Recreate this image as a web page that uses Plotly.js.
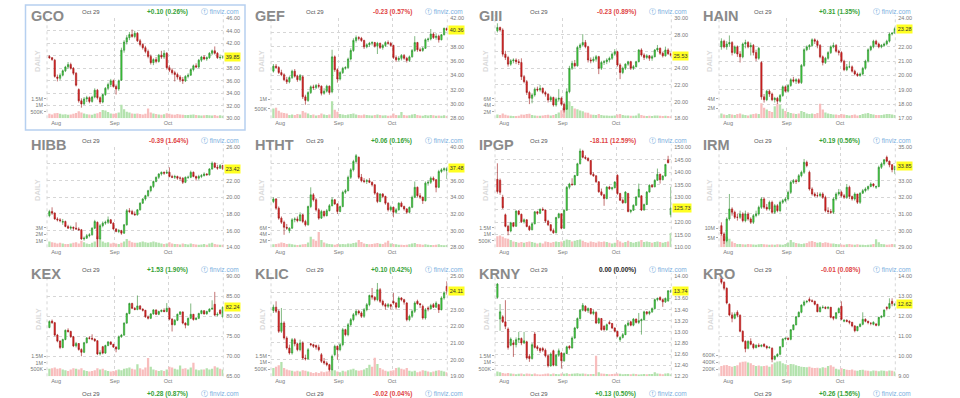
<!DOCTYPE html>
<html><head><meta charset="utf-8">
<script src="https://cdn.plot.ly/plotly-3.0.1.min.js"></script>
<style>html,body{margin:0;padding:0;background:#fff;overflow:hidden}#chart{width:960px;height:398px}</style>
</head><body><div id="chart"></div>
<script>
// ---------- data ----------
const monthStarts = [3, 25, 45];
const monthLabels = ['Aug', 'Sep', 'Oct'];
const dateLabel = 'Oct 29';
const tickers = ['GCO','GEF','GIII','HAIN','HIBB','HTHT','IPGP','IRM','KEX','KLIC','KRNY','KRO'];
const changeVals = [0.10,-0.23,-0.23,0.31,-0.39,0.06,-18.11,0.19,1.53,0.10,0.00,-0.01];
const changePcts = [0.26,0.57,0.89,1.35,1.64,0.16,12.59,0.56,1.90,0.42,0.00,0.08];
const row4ChangeVals = [0.28,-0.02,0.13,0.26];
const row4ChangePcts = [0.87,0.04,0.50,1.56];

const priceTicks = [
 [30,32,34,36,38,40,42,44,46],
 [28,30,32,34,36,38,40,42],
 [18,20,22,24,26,28,30],
 [17,18,19,20,21,22,23,24],
 [14,16,18,20,22,24,26],
 [28,30,32,34,36,38,40],
 [110,115,120,125,130,135,140,145,150],
 [29,30,31,32,33,34,35],
 [65,70,75,80,85,90],
 [19,20,21,22,23,24,25],
 [12.2,12.4,12.6,12.8,13.0,13.2,13.4,13.6,13.8,14.0],
 [9,10,11,12,13,14]
];
// volume ticks in thousands
const volTicks = [
 [500,1000,1500],[500,1000],[2000,4000,6000],[2000,4000],
 [1000,2000,3000],[2000,4000,6000],[500,1000,1500],[5000,10000],
 [500,1000,1500],[500,1000,1500],[500,1000,1500],[200,400,600]
];

// [open, high, low, close]
const GCO_OHLC = [[39.9,40.1,39.5,39.7],[39.7,39.8,39.2,39.4],[39.3,39.5,36.5,36.7],[36.6,37.0,35.9,36.4],[36.4,37.2,36.1,36.9],[36.9,37.8,36.7,37.6],[37.6,38.4,37.4,38.2],[38.2,39.0,37.9,38.6],[38.6,38.9,37.8,38.0],[38.0,38.2,36.9,37.2],
[37.2,37.4,35.1,35.3],[34.6,34.8,32.5,32.8],[32.8,33.2,31.7,32.3],[32.3,33.4,32.1,33.1],[33.1,33.6,32.6,33.3],[33.3,33.5,32.4,32.7],[32.7,33.6,32.5,33.4],[33.4,34.8,33.2,34.5],[34.5,34.7,33.0,33.3],[33.3,33.5,32.3,32.6],
[32.6,33.9,32.4,33.8],[33.8,35.0,33.6,34.8],[34.8,35.7,34.5,35.4],[35.4,36.3,35.0,36.0],[36.0,36.2,34.9,35.1],[35.1,35.4,33.8,34.7],[34.7,36.2,34.4,36.0],[36.1,41.3,36.0,40.9],[40.9,42.5,40.5,42.2],[42.2,43.3,41.8,42.9],
[42.9,43.8,42.5,43.4],[43.4,44.2,42.9,43.1],[43.1,44.0,42.8,43.6],[43.6,43.8,42.2,42.4],[42.4,42.7,41.5,41.8],[41.8,42.0,41.0,41.3],[41.3,41.6,40.4,40.7],[40.7,41.0,39.6,39.9],[39.9,40.2,38.6,38.9],[38.9,39.6,38.5,39.4],
[39.4,39.8,38.8,39.1],[39.1,40.3,38.9,40.1],[40.1,40.8,39.5,39.8],[39.8,40.9,39.5,40.4],[40.4,40.6,37.8,38.1],[38.1,38.5,37.4,37.7],[37.7,38.0,37.0,37.3],[37.3,37.6,35.9,37.0],[37.0,37.3,36.2,36.6],[36.6,36.9,35.8,36.2],
[36.2,36.6,35.5,36.0],[36.0,36.9,35.8,36.7],[36.7,37.2,36.4,36.9],[36.9,38.0,36.8,37.8],[37.8,38.6,37.5,38.4],[38.4,38.8,38.0,38.2],[38.2,39.5,38.0,39.3],[39.3,40.0,39.0,39.8],[39.8,40.1,39.3,39.5],[39.5,39.9,39.2,39.7],
[39.7,40.6,39.5,40.4],[40.4,41.0,40.1,40.8],[40.8,41.5,40.2,40.4],[40.4,40.6,39.5,39.7],[39.7,40.2,39.4,39.75],[39.75,40.0,39.5,39.85]];
const GCO_VOL = [350,300,400,420,350,300,320,280,300,350,420,550,450,380,320,300,280,350,400,480,650,600,480,380,350,400,450,1050,700,500,450,380,350,380,330,300,350,750,450,380,330,300,280,320,400,350,300,280,330,300,280,260,250,270,300,250,230,220,240,260,230,220,250,200,230,200];

const GEF_OHLC = [[34.6,35.6,34.4,35.3],[35.3,35.6,34.9,35.1],[35.1,35.3,34.2,34.4],[34.4,34.8,33.9,34.1],[34.1,34.3,33.2,33.4],[33.4,33.8,32.8,33.1],[33.1,33.9,32.9,33.7],[33.7,34.8,33.5,34.6],[34.6,34.9,33.7,33.9],[33.9,34.1,33.1,33.4],
[33.4,34.2,33.2,34.0],[33.8,34.0,30.7,31.0],[31.0,31.3,29.9,30.5],[30.5,31.8,30.3,31.6],[31.6,32.6,31.4,32.4],[32.4,32.7,32.0,32.3],[32.3,32.8,32.1,32.6],[32.6,32.9,32.2,32.5],[32.5,32.6,31.2,31.5],[31.5,32.2,31.3,31.8],
[31.8,32.7,31.6,32.5],[32.5,32.6,31.3,31.6],[31.7,37.6,31.5,36.6],[36.6,36.8,34.5,34.8],[34.8,35.0,33.0,33.5],[33.5,34.6,33.3,34.4],[34.4,35.2,34.2,35.0],[35.0,35.3,34.8,35.1],[35.1,36.5,34.9,36.3],[36.3,37.8,36.1,37.5],
[37.5,39.2,37.3,38.9],[38.9,39.6,38.6,39.3],[39.3,39.5,38.9,39.2],[39.2,39.4,38.7,38.9],[38.9,39.0,37.7,38.0],[38.0,38.5,37.8,38.3],[38.3,38.7,38.0,38.5],[38.5,38.8,38.2,38.6],[38.6,38.7,37.9,38.1],[38.1,38.7,37.0,38.5],
[38.5,38.6,37.7,37.9],[37.9,38.4,37.6,38.2],[38.2,38.8,38.0,38.6],[38.6,38.9,38.3,38.5],[38.5,38.7,38.0,38.2],[38.2,38.3,36.3,36.5],[36.5,36.8,35.9,36.2],[36.2,36.7,36.0,36.4],[36.4,37.0,36.1,36.8],[36.8,37.0,36.2,36.4],
[36.4,36.6,35.8,36.1],[36.1,36.8,35.9,36.6],[36.6,37.7,36.5,37.5],[37.5,39.5,37.3,38.6],[38.6,38.7,37.3,37.6],[37.6,37.9,37.3,37.5],[37.5,38.0,37.3,37.8],[37.8,39.2,37.7,39.0],[39.0,39.3,38.7,39.1],[39.1,40.5,38.9,39.8],
[39.8,40.0,39.1,39.3],[39.3,39.9,39.0,39.5],[39.5,39.7,38.6,39.0],[39.0,39.8,38.9,39.7],[39.7,40.7,39.6,40.59],[40.59,40.7,40.2,40.36]];
const GEF_VOL = [520,560,400,300,280,250,180,200,180,220,200,380,300,250,180,200,150,180,250,200,170,200,900,450,350,220,200,180,200,230,250,200,180,160,200,170,160,150,180,200,170,150,160,140,150,250,180,160,330,170,150,160,200,230,180,150,140,170,150,180,160,140,150,130,160,120];

const GIII_OHLC = [[28.5,29.4,28.3,28.9],[28.9,29.0,28.4,28.6],[28.6,28.8,25.4,25.7],[25.7,26.1,25.0,25.3],[25.3,25.5,24.2,24.5],[24.5,25.1,24.3,24.9],[24.9,25.2,24.6,25.0],[25.0,25.2,24.5,24.8],[24.8,25.1,24.4,24.7],[24.7,25.2,22.6,23.0],
[23.0,23.2,22.2,22.4],[22.4,22.6,20.8,21.1],[21.1,21.3,19.7,20.4],[20.4,21.0,19.8,20.8],[20.8,21.7,20.6,21.5],[21.5,21.8,21.2,21.4],[21.4,22.0,21.2,21.6],[21.6,21.7,20.9,21.1],[21.1,21.3,20.6,20.9],[20.9,21.0,19.9,20.2],
[20.2,20.7,20.0,20.5],[20.5,20.6,19.4,19.6],[19.6,20.5,19.4,20.3],[20.3,21.5,20.0,20.4],[20.4,20.6,19.5,19.7],[19.7,19.9,18.7,19.0],[19.1,21.6,19.0,21.2],[21.2,24.3,21.0,24.0],[24.0,24.9,23.8,24.6],[24.6,25.0,24.1,24.3],
[24.3,26.7,24.2,26.5],[26.5,27.0,26.2,26.8],[26.8,28.1,26.6,27.1],[27.1,27.4,26.4,26.6],[26.6,26.7,24.7,25.0],[25.0,25.3,24.6,24.9],[24.9,25.4,24.7,25.1],[25.1,25.6,24.8,25.4],[25.4,25.5,23.3,24.0],[24.0,24.9,23.8,24.7],
[24.7,25.0,24.4,24.8],[24.8,25.2,24.5,25.0],[25.0,25.4,24.7,25.2],[25.2,25.9,25.0,25.7],[25.7,26.3,25.5,26.0],[26.0,26.1,24.2,24.4],[24.4,24.6,22.7,23.5],[23.5,24.2,23.3,24.0],[24.0,24.6,23.8,24.5],[24.5,24.9,24.3,24.8],
[24.8,24.9,23.8,24.0],[24.0,24.4,23.8,24.2],[24.2,24.9,24.1,24.8],[24.8,26.3,24.7,26.2],[26.2,26.4,25.4,25.6],[25.6,25.8,25.0,25.3],[25.3,25.7,25.1,25.5],[25.5,25.6,24.9,25.2],[25.2,25.6,24.9,25.4],[25.4,26.3,25.3,26.2],
[26.2,26.8,26.0,26.4],[26.4,26.5,25.6,25.8],[25.8,26.0,25.3,25.5],[25.5,26.6,25.4,26.2],[26.2,26.4,25.6,25.76],[25.76,25.9,25.4,25.53]];
const GIII_VOL = [1200,1000,1500,1100,900,800,700,700,800,1200,1100,1300,1400,1000,900,800,800,900,1000,1100,900,1000,1300,1800,2500,3500,4200,5200,3800,3000,2800,2400,2200,1800,1700,1200,1100,1000,1300,1000,900,850,800,800,900,1200,1300,1000,900,850,800,800,900,1500,1000,800,750,800,700,900,850,800,700,800,700,600];

const HAIN_OHLC = [[22.0,22.6,21.8,22.4],[22.4,22.5,21.9,22.0],[22.0,22.4,21.8,22.2],[22.2,22.8,22.0,22.3],[22.3,22.4,21.4,21.6],[21.6,22.1,21.5,22.0],[22.0,22.1,21.3,21.5],[21.5,21.7,20.9,21.3],[21.3,22.3,21.2,22.2],[22.2,22.5,21.9,22.3],
[22.3,22.4,21.9,22.0],[22.0,22.3,21.4,22.1],[22.1,22.2,21.4,21.6],[21.6,21.8,21.0,21.2],[21.2,22.0,21.1,21.9],[20.9,21.0,18.3,18.5],[18.5,18.7,18.1,18.3],[18.3,19.0,18.2,18.9],[18.9,19.0,18.5,18.7],[18.7,18.8,18.2,18.3],
[18.3,18.5,18.1,18.4],[18.4,18.5,18.0,18.2],[18.2,18.7,18.1,18.6],[18.6,19.3,18.5,19.2],[19.2,19.3,18.8,18.9],[18.9,19.4,18.8,19.3],[19.3,19.8,19.2,19.7],[19.7,19.9,19.5,19.6],[19.6,19.8,19.4,19.7],[19.7,19.8,19.4,19.5],
[19.5,20.8,19.4,20.7],[20.7,21.9,20.6,21.8],[21.8,22.1,21.7,22.0],[22.0,22.2,21.8,22.1],[22.1,22.6,22.0,22.5],[22.5,22.6,22.2,22.4],[22.4,22.5,21.9,22.1],[22.1,22.2,21.2,21.3],[21.3,21.4,20.7,20.9],[20.9,21.3,20.8,21.2],
[21.2,21.7,21.1,21.6],[21.6,22.1,21.5,22.0],[22.0,22.3,21.9,22.1],[22.1,22.2,21.6,21.7],[21.7,21.8,21.4,21.6],[21.6,21.7,20.9,21.0],[21.0,21.1,20.3,20.4],[20.4,20.8,20.3,20.6],[20.6,21.0,20.5,20.6],[20.6,20.7,20.2,20.3],
[20.3,20.4,20.0,20.1],[20.1,20.2,19.9,20.0],[20.0,20.2,19.9,20.1],[20.1,20.6,20.0,20.5],[20.5,21.1,20.4,21.0],[21.0,21.9,20.9,21.8],[21.8,22.1,21.7,22.0],[22.0,22.5,21.9,22.4],[22.4,22.5,22.1,22.2],[22.2,22.3,21.9,22.0],
[22.0,22.2,21.9,22.1],[22.1,22.3,22.0,22.2],[22.2,22.5,22.1,22.4],[22.4,23.0,22.3,22.9],[22.9,23.0,22.8,22.97],[22.97,23.4,22.9,23.28]];
const HAIN_VOL = [1000,800,700,900,800,700,900,1000,800,700,600,800,900,1000,900,3100,2200,1800,1500,1300,2500,3000,2800,2000,1500,1300,1100,1000,900,1000,1500,1300,1000,900,1000,900,1100,3000,1800,1200,1000,900,800,800,700,900,800,700,600,700,800,600,700,900,1000,1100,900,800,700,700,700,800,900,900,800,700];

const HIBB_OHLC = [[17.8,18.5,17.6,18.3],[18.3,18.8,17.9,18.1],[18.1,18.2,17.3,17.4],[17.4,17.6,17.1,17.3],[17.3,17.5,17.0,17.2],[17.0,17.4,16.7,17.1],[17.1,17.2,16.4,16.5],[16.5,16.7,16.2,16.3],[16.3,16.6,16.1,16.4],[16.4,16.5,16.0,16.3],
[16.3,17.0,16.1,16.2],[16.2,16.4,16.0,16.1],[16.1,16.2,14.9,15.0],[15.0,15.3,14.8,15.1],[15.1,15.6,15.0,15.4],[15.4,15.7,15.2,15.5],[15.5,16.4,15.4,16.3],[16.3,17.3,16.2,17.1],[17.0,17.1,14.0,15.0],[15.0,16.8,14.9,16.6],
[16.6,17.1,16.4,16.9],[16.9,17.2,16.7,17.0],[17.0,17.7,16.8,17.3],[17.3,17.4,16.8,16.9],[16.9,17.0,16.1,16.2],[16.2,16.3,15.8,15.9],[15.9,16.2,15.7,16.0],[16.0,16.1,15.5,15.7],[15.7,16.8,15.6,16.7],[16.7,18.6,16.6,18.4],
[18.4,18.7,18.1,18.3],[18.3,18.5,17.9,18.0],[18.0,18.3,17.8,17.9],[17.9,18.6,17.8,18.5],[18.5,19.4,18.4,19.3],[19.3,19.9,19.2,19.8],[19.8,20.3,19.6,20.2],[20.2,20.9,20.0,20.8],[20.8,21.4,20.6,21.3],[21.3,22.0,21.1,21.9],
[21.9,22.5,21.8,22.4],[22.4,22.9,22.2,22.8],[22.8,23.1,22.6,23.0],[23.0,23.1,22.7,22.9],[22.9,23.3,22.8,23.0],[23.0,23.6,22.4,22.5],[22.5,22.7,22.3,22.4],[22.4,22.7,22.2,22.5],[22.5,22.6,22.1,22.3],[22.3,22.5,22.0,22.3],
[22.3,22.4,21.6,21.8],[21.8,22.5,21.7,22.4],[22.4,22.6,22.2,22.4],[22.4,23.2,22.3,23.0],[23.0,23.1,22.4,22.5],[22.5,22.6,22.0,22.3],[22.3,22.7,22.1,22.5],[22.5,22.8,22.3,22.6],[22.6,23.0,22.5,22.8],[22.8,22.9,22.6,22.7],
[22.7,23.5,22.6,23.4],[23.4,24.3,23.3,24.1],[24.1,24.2,23.5,23.6],[23.6,23.9,23.3,23.5],[23.5,24.0,23.4,23.81],[23.81,23.9,23.3,23.42]];
const HIBB_VOL = [900,800,700,600,700,600,500,500,600,700,800,600,1000,800,600,500,700,900,1800,1200,900,700,800,600,700,600,500,700,900,1300,1000,800,700,700,800,900,800,700,800,900,800,700,600,500,600,800,600,500,500,450,600,500,450,600,500,450,400,450,500,400,600,700,500,450,400,400];

const HTHT_OHLC = [[33.5,34.0,33.3,33.8],[33.8,33.9,32.5,32.7],[32.7,32.9,31.3,31.5],[31.5,31.7,30.8,31.0],[31.0,31.2,29.5,30.4],[30.4,30.8,30.1,30.3],[30.0,30.4,29.7,30.3],[30.3,31.5,30.2,31.3],[31.3,31.6,31.0,31.4],[31.4,31.7,31.0,31.2],
[31.2,32.2,31.1,31.9],[31.9,32.0,30.9,31.1],[31.1,31.3,30.5,30.7],[30.7,33.0,30.6,32.9],[32.9,35.2,32.7,34.3],[34.3,34.5,33.5,33.7],[33.7,33.9,32.3,32.5],[32.5,32.7,31.3,31.5],[31.5,32.5,31.4,32.3],[32.3,32.4,31.6,31.8],
[31.8,32.6,31.7,32.4],[32.4,33.2,32.3,33.0],[33.0,34.0,32.9,33.7],[33.7,33.8,33.1,33.2],[33.2,33.3,32.0,32.3],[32.3,33.0,32.2,32.9],[32.9,34.8,32.8,34.6],[34.6,35.0,34.4,34.8],[34.8,36.6,34.7,36.4],[36.4,37.5,36.2,37.3],
[37.3,38.5,37.1,38.3],[38.3,39.2,38.1,39.0],[38.8,38.9,36.2,36.4],[36.4,36.8,35.8,36.0],[36.0,36.3,35.7,35.9],[35.9,36.2,35.6,36.0],[36.0,36.3,35.7,35.8],[35.8,35.9,35.3,35.5],[35.5,35.6,34.3,34.5],[34.5,34.6,33.3,33.5],
[33.5,34.5,33.4,34.4],[34.4,34.5,33.9,34.1],[34.1,34.2,33.1,33.3],[33.3,33.4,32.3,32.5],[32.5,33.0,32.3,32.8],[32.8,32.9,31.6,32.2],[32.2,32.7,32.0,32.5],[32.5,33.4,32.4,33.3],[33.3,33.5,32.8,32.9],[32.9,33.0,32.4,32.6],
[32.6,32.7,32.0,32.2],[32.2,32.9,32.1,32.8],[32.8,34.2,32.7,34.0],[34.0,35.9,33.9,35.2],[35.2,35.3,34.0,34.2],[34.2,34.5,33.8,34.0],[34.0,34.1,33.2,33.6],[33.6,35.9,33.5,35.7],[35.7,36.0,35.4,35.8],[35.8,36.5,35.6,36.3],
[36.3,36.5,35.9,36.1],[36.1,36.2,34.6,35.2],[35.2,37.3,35.1,37.1],[37.1,37.5,36.9,37.3],[37.3,37.6,37.1,37.42],[37.2,37.6,36.2,37.48]];
const HTHT_VOL = [900,1000,1200,1500,1300,1000,1100,900,800,700,800,900,1000,1500,3200,2500,2000,4700,2200,1500,1200,1000,900,800,1000,900,1000,900,1200,1100,1300,1500,2200,1600,1200,1000,900,1000,1200,1300,1100,1000,1500,2000,1200,1000,900,800,800,700,800,900,1200,1300,1000,900,800,900,800,700,700,800,900,700,600,700];

const IPGP_OHLC = [[137.2,143.6,131.5,132.3],[136.8,137.5,131.0,132.0],[130.0,131.0,125.3,125.8],[123.0,123.5,118.0,118.4],[118.4,119.0,114.8,116.5],[116.5,120.2,116.0,119.8],[119.8,120.0,118.0,118.4],[118.4,124.8,118.2,124.5],[124.5,124.9,122.8,123.2],[123.2,123.5,119.8,120.2],
[120.2,121.5,119.5,121.0],[121.0,121.2,118.0,118.3],[118.3,118.8,116.5,117.0],[117.0,119.8,116.8,119.4],[119.4,124.5,119.2,124.2],[124.2,124.6,123.0,123.6],[123.6,125.5,123.3,125.2],[125.2,126.0,124.6,124.9],[124.9,125.0,119.8,120.5],[120.5,121.0,118.5,119.0],
[119.0,119.3,116.3,116.7],[116.7,117.5,115.4,115.8],[115.8,122.2,115.6,121.9],[121.9,123.8,121.5,123.4],[123.4,123.6,117.2,117.6],[117.6,125.2,117.4,124.8],[124.8,134.5,124.6,134.0],[134.0,135.8,133.2,135.3],[135.3,137.6,134.8,135.0],[135.0,139.0,134.8,138.7],
[138.7,143.8,138.5,143.4],[143.4,149.5,143.2,148.5],[148.5,149.0,145.6,146.0],[146.0,146.8,145.2,145.6],[145.6,146.0,144.3,144.7],[144.7,144.9,138.8,139.2],[139.2,140.0,138.2,138.6],[138.6,138.8,135.8,136.2],[136.2,136.5,131.8,132.2],[132.2,133.5,130.5,131.0],
[131.0,131.4,126.6,129.5],[129.5,134.4,129.2,134.1],[134.1,134.6,133.0,133.4],[133.4,134.2,132.8,133.8],[133.8,136.5,133.6,136.1],[138.8,139.2,131.0,131.5],[131.5,131.8,128.5,128.8],[128.8,129.5,127.4,127.8],[127.8,132.5,127.6,132.1],[131.5,131.8,124.0,124.3],
[124.3,125.2,123.6,124.8],[124.8,127.2,124.6,126.8],[126.8,130.5,126.6,130.1],[130.1,135.5,130.0,133.2],[130.6,130.8,124.5,124.9],[124.9,127.5,124.7,127.1],[127.1,132.5,126.9,132.1],[132.1,135.2,131.9,134.8],[134.8,135.3,133.8,134.2],[134.2,137.2,134.0,136.8],
[136.8,141.5,136.6,139.2],[139.2,139.5,135.5,137.0],[137.0,138.9,136.8,138.5],[138.5,143.4,138.3,143.1],[145.0,146.6,143.6,143.84],[123.0,134.2,122.0,125.73]];
const IPGP_VOL = [850,900,800,700,650,550,450,400,350,400,350,400,450,400,350,300,350,300,450,400,350,400,450,400,450,500,600,550,450,500,550,600,500,400,350,450,400,350,450,400,450,400,350,300,350,550,450,350,400,500,400,350,400,450,550,400,450,400,350,400,450,400,350,400,450,1100];

const IRM_OHLC = [[30.3,30.5,29.7,29.8],[29.8,29.9,29.2,29.4],[29.4,30.8,29.3,30.7],[30.7,32.2,30.6,31.3],[31.3,31.4,30.9,31.1],[31.1,31.2,30.7,30.8],[30.8,31.0,30.6,30.8],[30.8,31.2,30.7,31.0],[31.0,31.1,30.5,30.6],[30.6,31.2,30.5,31.0],
[31.0,31.1,30.6,30.7],[30.7,30.8,30.4,30.5],[30.5,31.0,30.4,30.9],[30.9,31.2,30.8,31.0],[31.0,31.5,30.9,31.4],[31.4,32.0,31.3,31.9],[31.9,32.0,31.3,31.4],[31.4,31.6,31.2,31.3],[31.3,31.8,31.2,31.7],[31.7,31.8,31.0,31.1],
[31.1,31.6,31.0,31.5],[31.5,31.6,31.1,31.2],[31.2,31.8,31.1,31.7],[31.7,31.9,31.6,31.8],[31.8,32.0,31.7,31.9],[31.9,32.4,31.8,32.3],[32.3,33.0,32.2,32.9],[32.9,33.1,32.8,33.0],[33.0,33.1,32.8,32.95],[32.95,33.4,32.9,33.3],
[33.3,33.6,33.2,33.5],[33.5,34.3,33.4,34.1],[34.1,34.2,33.8,33.9],[33.5,33.6,32.4,32.5],[32.5,32.6,32.1,32.2],[32.2,32.3,32.0,32.1],[32.1,32.3,32.0,32.1],[32.1,32.3,32.0,32.2],[32.2,32.3,31.9,32.0],[32.0,32.1,31.1,31.2],
[31.2,31.4,31.0,31.15],[31.15,31.3,31.0,31.1],[31.1,32.0,31.0,31.9],[31.9,32.3,31.8,32.2],[32.2,32.5,32.1,32.3],[32.3,32.4,32.0,32.1],[32.1,32.2,31.9,32.0],[32.0,32.8,31.9,32.6],[32.6,32.7,31.9,32.05],[32.05,32.1,31.8,31.9],
[31.9,32.3,31.8,32.2],[32.2,32.2,31.6,31.7],[31.7,32.3,31.6,32.25],[32.25,32.5,32.2,32.4],[32.4,32.6,32.3,32.5],[32.5,32.7,32.4,32.65],[32.65,32.9,32.6,32.8],[32.8,32.85,32.6,32.7],[32.6,32.7,32.5,32.65],[32.65,33.9,32.6,33.8],
[33.8,34.1,33.7,34.0],[34.0,34.3,33.9,34.25],[34.4,34.5,34.1,34.17],[34.17,34.2,33.8,33.95],[33.95,34.0,33.5,33.66],[33.66,33.9,33.4,33.85]];
const IRM_VOL = [6500,6000,5500,4500,3000,2200,1800,1800,1600,1500,1700,1600,1500,1400,1600,1800,1600,1500,1400,1500,1400,1600,1500,1400,1800,2500,3800,2600,2200,2000,1800,2000,2200,3000,3300,2800,2400,2600,2200,2600,2400,2000,2000,1800,1600,1500,1400,1600,1800,1500,1300,1600,1400,1300,1200,1400,1500,1800,4200,2600,1800,1600,1400,1500,1700,1600];

const KEX_OHLC = [[77.2,79.0,77.0,78.7],[78.8,79.2,78.1,78.4],[78.4,78.6,75.0,75.3],[75.3,75.6,73.5,73.8],[73.8,74.0,71.8,72.2],[72.2,74.4,72.0,74.2],[74.2,76.7,74.0,76.5],[76.5,77.0,75.9,76.2],[76.2,76.4,74.6,74.9],[74.9,75.1,72.3,72.6],
[72.6,73.6,72.2,73.2],[73.2,73.3,71.4,71.7],[71.7,72.0,70.0,71.0],[71.0,73.6,70.8,73.4],[73.4,74.8,73.2,74.6],[74.6,75.0,74.2,74.5],[74.5,75.5,74.0,74.3],[74.3,74.5,73.6,73.9],[73.9,74.0,70.3,70.6],[70.6,71.5,70.2,70.9],
[72.4,72.6,70.5,70.8],[70.8,72.9,70.6,72.7],[72.7,73.8,72.5,73.6],[73.6,73.7,72.8,73.0],[73.0,73.1,72.1,72.3],[72.3,72.5,71.0,71.8],[71.8,75.2,71.6,74.9],[74.9,75.6,74.6,75.3],[75.3,78.5,75.1,78.3],[78.3,80.9,78.1,80.7],
[80.7,83.4,80.5,83.2],[83.2,83.4,81.8,82.0],[82.0,82.3,81.5,81.7],[81.7,85.2,81.5,82.6],[82.6,82.8,81.6,81.8],[81.8,82.0,81.2,81.5],[81.5,81.6,79.6,79.9],[79.9,80.2,79.2,79.5],[79.5,80.8,79.3,80.6],[80.6,81.8,80.4,81.6],
[81.6,81.7,80.3,80.5],[80.5,81.4,80.3,81.2],[81.2,81.7,81.0,81.5],[81.5,82.0,81.0,81.2],[81.2,83.3,81.0,82.0],[82.0,82.2,79.0,79.3],[79.3,79.5,76.2,77.9],[77.9,79.3,77.7,79.0],[79.0,80.7,78.8,80.5],[80.5,81.3,80.3,81.1],
[81.1,81.2,78.0,78.3],[78.3,78.5,77.0,77.8],[77.8,79.7,77.6,79.5],[79.5,83.2,79.3,80.5],[80.5,80.6,78.9,79.2],[79.2,79.8,79.0,79.5],[79.5,80.9,79.3,80.7],[80.7,81.6,80.5,81.4],[81.4,81.5,80.4,80.6],[80.6,81.4,80.4,81.2],
[81.2,82.0,81.0,81.8],[81.8,84.0,81.6,82.0],[83.0,86.1,80.0,80.3],[80.3,81.0,80.0,80.5],[81.5,81.8,80.4,80.71],[80.0,82.5,79.5,82.24]];
const KEX_VOL = [550,600,650,550,600,500,450,400,500,600,550,500,600,450,400,350,400,450,600,500,550,450,400,350,400,450,500,450,550,600,650,550,500,900,600,500,650,1350,700,500,450,400,450,400,500,700,650,550,500,800,550,600,500,650,1000,500,450,500,500,600,500,550,750,650,550,500];

const KLIC_OHLC = [[22.95,23.3,22.8,23.15],[23.15,23.5,22.8,22.9],[22.9,23.0,21.6,21.7],[21.7,23.1,21.6,22.2],[22.2,22.3,21.2,21.3],[21.3,21.4,20.6,20.7],[20.7,20.9,20.3,20.4],[20.4,21.3,20.3,21.2],[21.2,21.3,20.8,20.95],[20.95,21.0,20.5,20.6],
[20.6,21.2,20.5,21.0],[21.0,21.1,20.0,20.1],[20.1,20.3,19.95,20.05],[20.05,20.7,20.0,20.6],[20.95,21.0,20.8,20.9],[20.9,20.95,20.7,20.8],[20.85,20.9,20.6,20.75],[20.75,20.9,20.5,20.6],[20.3,20.4,19.8,19.9],[19.9,20.1,19.7,19.8],
[19.8,19.9,19.6,19.7],[19.7,19.75,19.3,19.4],[19.4,20.3,19.35,20.2],[20.3,20.9,20.2,20.8],[20.8,20.85,20.0,20.6],[20.6,21.0,20.5,20.9],[20.9,21.9,20.8,21.8],[21.8,21.85,21.4,21.5],[21.5,22.2,21.4,22.1],[22.1,22.5,22.0,22.4],
[22.4,22.8,22.3,22.7],[22.7,23.0,22.6,22.9],[22.9,23.0,22.7,22.8],[22.8,22.9,22.5,22.6],[22.6,23.1,22.5,23.0],[23.0,23.4,22.9,23.3],[23.3,23.9,23.2,23.85],[23.85,24.3,23.6,23.75],[23.75,23.8,23.5,23.6],[23.6,24.6,23.5,24.2],
[24.2,24.3,23.4,23.5],[23.5,23.6,23.2,23.3],[23.3,23.4,23.0,23.2],[23.2,23.4,23.1,23.3],[23.3,23.35,23.0,23.2],[23.5,24.0,23.3,23.4],[23.4,23.45,23.0,23.15],[23.15,23.8,23.1,23.7],[23.7,23.75,23.5,23.6],[23.6,23.65,23.3,23.45],
[23.4,23.45,22.3,22.4],[22.4,22.7,22.3,22.6],[22.6,23.0,22.5,22.9],[22.9,23.5,22.8,23.4],[23.5,23.6,23.3,23.35],[23.35,23.4,23.1,23.3],[23.2,23.3,22.4,22.5],[22.5,23.1,22.4,23.0],[23.1,23.2,22.9,23.05],[23.05,23.35,23.0,23.25],
[23.3,23.4,23.1,23.15],[23.15,23.5,23.1,23.4],[23.3,23.35,22.8,23.0],[23.0,23.8,22.95,23.7],[23.7,24.1,23.6,24.01],[24.4,24.7,23.9,24.11]];
const KLIC_VOL = [600,700,800,1050,600,500,450,400,350,400,350,450,400,350,300,250,300,250,350,300,350,400,500,450,350,300,400,350,450,500,550,450,400,450,500,600,850,700,1350,900,600,500,400,350,400,450,600,650,550,500,600,400,350,400,300,350,450,400,350,300,350,400,450,400,350,300];

const KRNY_OHLC = [[13.62,13.88,13.6,13.86],[13.23,13.5,13.02,13.36],[13.27,13.3,13.16,13.18],[13.18,13.57,13.05,13.1],[13.05,13.08,12.68,12.72],[12.76,12.9,12.74,12.87],[12.8,12.85,12.55,12.77],[12.77,12.9,12.72,12.86],[12.86,13.0,12.8,12.88],[12.88,12.9,12.76,12.8],
[12.8,13.0,12.78,12.84],[12.82,12.84,12.5,12.53],[12.56,12.6,12.46,12.52],[12.52,12.8,12.5,12.77],[12.96,13.0,12.7,12.72],[12.73,12.76,12.66,12.7],[12.7,12.72,12.62,12.66],[12.7,12.73,12.64,12.67],[12.67,12.7,12.54,12.57],[12.57,12.6,12.36,12.39],
[12.39,12.63,12.37,12.6],[12.66,12.68,12.38,12.4],[12.4,12.6,12.38,12.58],[12.58,12.7,12.55,12.66],[12.62,12.64,12.34,12.48],[12.48,12.63,12.46,12.61],[12.61,12.75,12.6,12.73],[12.74,12.76,12.68,12.71],[12.71,12.92,12.7,12.89],[12.89,13.09,12.87,13.07],
[13.07,13.26,13.05,13.24],[13.24,13.41,13.22,13.39],[13.39,13.52,13.37,13.48],[13.46,13.48,13.36,13.38],[13.38,13.44,13.34,13.42],[13.42,13.43,13.31,13.33],[13.33,13.4,13.3,13.36],[13.35,13.37,13.14,13.16],[13.16,13.26,13.14,13.24],[13.24,13.25,13.02,13.04],
[13.1,13.12,13.02,13.04],[13.04,13.15,13.02,13.13],[13.17,13.2,13.13,13.15],[13.15,13.16,13.05,13.07],[13.07,13.08,12.99,13.01],[13.01,13.02,12.9,12.92],[12.86,12.92,12.82,12.9],[12.9,12.98,12.88,12.95],[12.95,13.14,12.94,13.12],[13.12,13.2,13.1,13.16],
[13.18,13.2,13.1,13.12],[13.12,13.25,13.1,13.23],[13.23,13.24,13.15,13.17],[13.17,13.34,13.14,13.2],[13.2,13.24,12.95,13.22],[13.22,13.38,13.2,13.36],[13.36,13.37,13.3,13.33],[13.33,13.38,13.3,13.36],[13.36,13.44,13.34,13.42],[13.42,13.6,13.4,13.58],
[13.58,13.62,13.55,13.6],[13.62,13.64,13.56,13.58],[13.58,13.6,13.45,13.54],[13.54,13.62,13.52,13.6],[13.56,13.75,13.54,13.74],[13.72,13.76,13.7,13.74]];
const KRNY_VOL = [350,300,250,200,250,200,180,150,180,200,150,200,180,150,200,150,130,150,180,200,150,200,170,150,200,180,220,160,180,200,220,180,200,180,150,170,160,1500,300,200,180,160,150,170,180,200,180,150,170,160,150,180,160,140,150,170,150,160,170,300,200,180,150,200,220,150];

const KRO_OHLC = [[13.9,14.0,13.6,13.7],[13.7,13.75,13.3,13.4],[13.4,13.45,12.6,12.67],[12.6,12.65,12.0,12.07],[12.07,12.2,11.7,11.9],[11.9,12.2,11.85,12.1],[12.2,12.3,11.95,12.05],[12.05,12.1,11.2,11.25],[11.25,11.3,10.7,10.75],[10.75,10.8,10.2,10.38],
[10.4,10.8,10.35,10.75],[10.75,10.9,10.55,10.6],[10.6,10.65,10.35,10.43],[10.43,10.6,10.4,10.55],[10.55,10.65,10.45,10.5],[10.5,10.6,10.45,10.55],[10.6,10.65,10.45,10.5],[10.5,10.55,10.35,10.43],[10.43,10.5,10.38,10.45],[10.4,10.45,9.7,9.85],
[9.85,10.05,9.8,10.0],[10.0,10.15,9.95,10.1],[10.1,10.5,10.05,10.48],[10.48,10.9,10.45,10.87],[10.87,10.95,10.8,10.9],[10.9,10.95,10.8,10.85],[10.85,11.35,10.8,11.33],[11.33,11.6,11.3,11.57],[11.57,12.0,11.55,11.98],[11.98,12.25,11.95,12.2],
[12.2,12.6,12.15,12.56],[12.56,12.8,12.5,12.72],[12.72,12.8,12.65,12.75],[12.85,12.95,12.7,12.78],[12.78,12.85,12.7,12.75],[12.75,12.78,12.55,12.6],[12.6,12.62,12.2,12.23],[12.23,12.5,12.2,12.44],[12.44,12.55,12.38,12.45],[12.45,12.5,12.35,12.4],
[12.4,12.5,12.35,12.45],[12.45,12.47,11.9,11.95],[11.98,12.0,11.8,11.9],[11.9,12.2,11.85,12.18],[12.18,12.45,12.15,12.39],[12.5,12.75,11.8,11.85],[11.75,11.85,11.7,11.8],[11.8,11.85,11.7,11.75],[11.75,11.8,11.6,11.7],[11.7,11.72,11.45,11.52],
[11.52,11.55,11.2,11.28],[11.28,11.52,11.25,11.49],[11.49,11.65,11.45,11.6],[11.6,12.2,11.55,11.85],[11.85,11.9,11.7,11.75],[11.75,11.78,11.6,11.69],[11.65,11.7,11.55,11.65],[11.6,11.75,11.55,11.7],[11.62,11.65,11.5,11.55],[11.55,11.97,11.5,11.95],
[11.95,12.05,11.9,12.0],[12.0,12.35,11.95,12.31],[12.45,12.5,12.3,12.4],[12.4,12.9,12.35,12.64],[12.75,12.9,12.5,12.63],[12.55,12.66,12.5,12.62]];
const KRO_VOL = [300,320,330,300,280,300,320,400,420,430,400,380,330,300,310,290,300,310,280,350,400,430,440,380,350,330,360,350,320,300,280,270,260,280,250,240,250,230,260,250,300,320,280,220,200,230,210,190,180,200,170,160,180,190,170,160,150,170,160,150,170,160,150,170,160,140];

// ---------- assembly ----------
const OHLC = [GCO_OHLC,GEF_OHLC,GIII_OHLC,HAIN_OHLC,HIBB_OHLC,HTHT_OHLC,IPGP_OHLC,IRM_OHLC,KEX_OHLC,KLIC_OHLC,KRNY_OHLC,KRO_OHLC];
const VOLS = [GCO_VOL,GEF_VOL,GIII_VOL,HAIN_VOL,HIBB_VOL,HTHT_VOL,IPGP_VOL,IRM_VOL,KEX_VOL,KLIC_VOL,KRNY_VOL,KRO_VOL];
// volume-axis scale (layout): axis top in thousands
const volAxisTop = [7750,5260,31000,20700,15500,30600,7650,52600,7400,7300,7300,2900];

const W = 960, H = 398;
const FONT = 'Liberation Sans, Arial, sans-serif';
const GRID = '#d6d6d6';
const px = x => x / W, py = y => 1 - y / H;
const fmtVol = v => v >= 1000 ? (v / 1000) + 'M' : v + 'K';
const fmtChg = (v, p) => (v > 0 ? '+' : '') + v.toFixed(2) + ' (' + p.toFixed(2) + '%)';
const chgColor = v => v > 0 ? '#36a236' : (v < 0 ? '#e04444' : '#222222');

const data = [];
const layout = {
  width: W, height: H, margin: {l: 0, r: 0, t: 0, b: 0},
  paper_bgcolor: '#ffffff', plot_bgcolor: 'rgba(0,0,0,0)',
  showlegend: false, hovermode: false, bargap: 0.15,
  font: {family: FONT, color: '#777'},
  annotations: [], shapes: []
};

function header(k, r, c, ticker, chgV, chgP, yLine) {
  const PL = 25 + 224 * c, yOff = 129 * r;
  const yl = yLine !== undefined ? yLine : 11.7 + yOff;
  if (ticker) layout.annotations.push({xref: 'paper', yref: 'paper', x: px(PL + 4), y: py(15.6 + yOff), xanchor: 'left', yanchor: 'middle',
    text: '<b>' + ticker + '</b>', showarrow: false, font: {size: 14.5, color: '#8a8a8a', family: FONT}});
  layout.annotations.push({xref: 'paper', yref: 'paper', x: px(PL + 65.5), y: py(yl), xanchor: 'center', yanchor: 'middle',
    text: dateLabel, showarrow: false, font: {size: 6, color: '#555', family: FONT}});
  layout.annotations.push({xref: 'paper', yref: 'paper', x: px(PL + 165), y: py(yl), xanchor: 'right', yanchor: 'middle',
    text: '<b>' + fmtChg(chgV, chgP) + '</b>', showarrow: false, font: {size: 6.5, color: chgColor(chgV), family: FONT}});
  layout.annotations.push({xref: 'paper', yref: 'paper', x: px(PL + 216), y: py(yl), xanchor: 'right', yanchor: 'middle',
    text: '\u24D5 finviz.com', showarrow: false, font: {size: 6.5, color: '#7aaee0', family: FONT}});
}

for (let k = 0; k < 12; k++) {
  const c = k % 4, r = Math.floor(k / 4);
  const L = 47 + 224 * c, R = 223.3 + 224 * c, T = 18.3 + 129 * r, B = 118.3 + 129 * r;
  const xn = k === 0 ? '' : String(k + 1);
  const vyN = 2 * k + 1, pyN = 2 * k + 2;
  const xa = 'x' + xn, vya = 'y' + (vyN === 1 ? '' : vyN), pya = 'y' + pyN;
  const rows = OHLC[k];
  const idx = rows.map((_, i) => i);
  const last = rows[rows.length - 1][3];

  data.push({type: 'bar', x: idx, y: VOLS[k], xaxis: xa, yaxis: vya, hoverinfo: 'skip',
    marker: {color: rows.map(d => d[3] >= d[0] ? '#b3e2ad' : '#f8bdbd'), line: {width: 0}}});
  data.push({type: 'candlestick', x: idx, xaxis: xa, yaxis: pya, hoverinfo: 'skip', whiskerwidth: 0,
    open: rows.map(d => d[0]), high: rows.map(d => d[1]), low: rows.map(d => d[2]), close: rows.map(d => d[3]),
    increasing: {line: {color: '#2b8a2b', width: 0.6}, fillcolor: '#3fd43f'},
    decreasing: {line: {color: '#9a1414', width: 0.6}, fillcolor: '#e22424'}});

  layout['xaxis' + xn] = {
    domain: [px(L), px(R)], anchor: vya, range: [-0.9, 65.2], fixedrange: true,
    tickmode: 'array', tickvals: monthStarts.map(m => m - 0.5), ticktext: monthLabels,
    ticks: '', showgrid: false, zeroline: false, showline: false,
    tickfont: {size: 5.5, color: '#777', family: FONT},
    minor: {tickmode: 'array', tickvals: monthStarts.slice(1).map(m => m - 0.5), showgrid: true, gridcolor: GRID, griddash: 'dot', gridwidth: 1, ticks: ''},
    rangeslider: {visible: false}
  };
  const vt = volTicks[k];
  layout['yaxis' + (vyN === 1 ? '' : vyN)] = {
    domain: [py(B), py(T)], anchor: xa, side: 'left', range: [0, volAxisTop[k]], fixedrange: true,
    tickmode: 'array', tickvals: vt, ticktext: vt.map(fmtVol), showgrid: false, zeroline: false, showline: false,
    ticks: 'outside', ticklen: 2, tickwidth: 1, tickcolor: '#aaa',
    tickfont: {size: 5.3, color: '#777', family: FONT}
  };
  const pt = priceTicks[k];
  const pxPerUnit = 100 / (pt[pt.length - 1] - pt[0]);
  layout['yaxis' + pyN] = {
    domain: [py(B), py(T)], anchor: xa, overlaying: vya, side: 'right', fixedrange: true,
    range: [pt[0], pt[pt.length - 1]], tickmode: 'array', tickvals: pt,
    // tick labels hidden behind the last-price tag
    ticktext: pt.map(v => Math.abs(v - last) * pxPerUnit < 6 ? '' : v.toFixed(2)),
    showgrid: true, gridcolor: GRID, griddash: 'dot', gridwidth: 1, zeroline: false, showline: false, ticks: '',
    ticklabelstandoff: 2, tickfont: {size: 5.5, color: '#777', family: FONT}
  };
  // plot-area side borders
  [0, 1].forEach(j => layout.shapes.push({type: 'line', xref: xa + ' domain', yref: vya + ' domain',
    x0: j, x1: j, y0: 0, y1: 1.03, line: {color: GRID, width: 1, dash: 'dot'}}));

  header(k, r, c, tickers[k], changeVals[k], changePcts[k]);

  // DAILY side label
  layout.annotations.push({xref: 'paper', yref: 'paper', x: px(38 + 224 * c), y: py(61 + 129 * r), xanchor: 'center', yanchor: 'middle',
    text: '<b>DAILY</b>', textangle: -90, showarrow: false, font: {size: 7.5, color: '#dadada', family: FONT}});
  // last price tag
  layout.annotations.push({xref: 'paper', yref: pya, x: px(R + 1), y: last, xanchor: 'left', yanchor: 'middle',
    text: last.toFixed(2), showarrow: false, bgcolor: '#ffff22', borderpad: 0.8,
    font: {size: 5.5, color: '#333', family: FONT}});
}
// fourth row of headers at the bottom edge (kept fully inside the picture)
for (let c = 0; c < 4; c++) header(12 + c, 3, c, '', row4ChangeVals[c], row4ChangePcts[c], 393.5);

// highlighted first panel
layout.shapes.push({type: 'rect', xref: 'paper', yref: 'paper', x0: px(25.5), x1: px(245), y0: py(130), y1: py(5),
  line: {color: '#b6d0f0', width: 1.5}, fillcolor: 'rgba(0,0,0,0)'});

Plotly.newPlot('chart', data, layout, {staticPlot: true, displayModeBar: false});
</script>
</body></html>
